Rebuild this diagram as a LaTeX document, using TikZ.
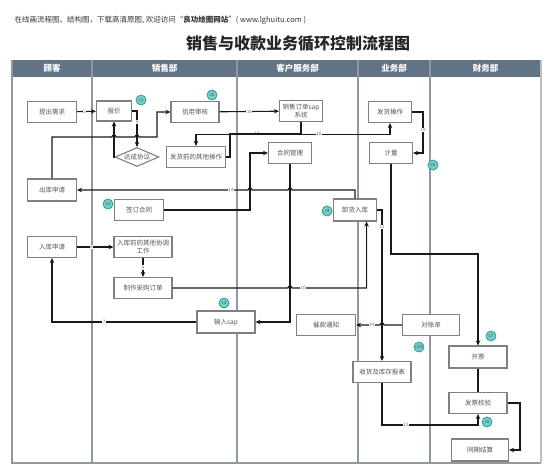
\documentclass[tikz,border=0pt]{standalone}
\usepackage{fontspec}
\setmainfont{Noto Sans CJK SC}
\usepackage{tikz}
\usetikzlibrary{shapes.geometric,arrows.meta}
\definecolor{lanehead}{HTML}{627386}
\definecolor{laneline}{HTML}{8E99A4}
\definecolor{boxline}{HTML}{808080}
\definecolor{boxtext}{HTML}{555555}
\definecolor{badgefill}{HTML}{74CFC8}
\definecolor{badgeline}{HTML}{2E9C95}

\begin{document}
\begin{tikzpicture}[x=1pt,y=1pt]
\tikzstyle{box}=[draw=boxline, line width=1.1pt, fill=white, text=boxtext, font=\fontsize{6.5}{7.5}\selectfont, inner sep=1pt, align=center, minimum height=21pt]
\tikzstyle{badge}=[circle, draw=badgeline, fill=badgefill, line width=0.8pt, minimum size=10pt, inner sep=0pt, font=\fontsize{4.5}{5}\selectfont, text=black!70]
\tikzstyle{head}=[text=white, font=\fontsize{8.5}{9}\selectfont\bfseries]
\tikzstyle{flow}=[black!90, line width=1.1pt, -{Stealth[length=5pt,width=4.5pt]}]
\tikzstyle{link}=[black!90, line width=1.1pt]
\tikzstyle{num}=[fill=white, inner sep=0.5pt, font=\fontsize{4.5}{5}\selectfont, text=black!60]
\useasboundingbox (0,0) rectangle (553,-475);
\node[anchor=west, font=\fontsize{7.5}{8}\selectfont, text=black!80] (note) at (11,-20) {在线画流程图、结构图，下载高清原图, 欢迎访问“\textbf{良功绘图网站}”( www.lghuitu.com )};
\node[font=\fontsize{16}{18}\selectfont\bfseries, text=black!85] (title) at (298,-44) {销售与收款业务循环控制流程图};
\fill[lanehead] (12,-60) rectangle (541,-77);
\draw[laneline, line width=1.2pt] (12,-60) -- (12,-463) -- (541,-463);
\draw[black!25, line width=1.2pt] (541,-60) -- (541,-463);
\draw[laneline, line width=1.2pt] (92,-60) -- (92,-463);
\draw[laneline, line width=1.2pt] (237,-60) -- (237,-463);
\draw[laneline, line width=1.2pt] (358,-60) -- (358,-463);
\draw[laneline, line width=1.2pt] (430,-60) -- (430,-463);
\node[head] (h1) at (52,-68.5) {顾客};
\node[head] (h2) at (164.5,-68.5) {销售部};
\node[head] (h3) at (297.5,-68.5) {客户服务部};
\node[head] (h4) at (394,-68.5) {业务部};
\node[head] (h5) at (485.5,-68.5) {财务部};

\node[box, minimum width=49pt] (tichu) at (52,-112) {提出需求};
\node[box, minimum width=35pt, minimum height=20pt] (baojia) at (114,-111) {报价};
\node[box, minimum width=48pt] (xinyong) at (195,-112) {信用审核};
\node[box, shape=diamond, aspect=2.3, inner sep=0pt, minimum width=44pt, minimum height=19pt] (dacheng) at (137,-157) {达成协议};
\node[box, minimum width=59pt] (fahuoqian) at (196,-157) {发货前的其他操作};
\node[box, minimum width=49pt, minimum height=22pt] (chuku) at (52,-190) {出库申请};
\node[box, minimum width=43pt] (xiaoshou) at (301,-111) {销售订单sap\\系统};
\node[box, minimum width=43pt] (hetong) at (290,-153) {合同管理};
\node[box, minimum width=43pt] (fahuo) at (390,-112) {发货操作};
\node[box, minimum width=43pt] (jiliang) at (391,-153) {计量};
\node[box, minimum width=49pt] (qianding) at (139,-210) {签订合同};
\node[box, minimum width=49pt] (ruku) at (52,-247) {入库申请};
\node[box, minimum width=58pt] (rukuqian) at (143,-247) {入库前的其他协调\\工作};
\node[box, minimum width=58pt] (caigou) at (143,-288) {制作采购订单};
\node[box, minimum width=58pt, minimum height=22pt] (shuru) at (226,-322) {输入sap};
\node[box, minimum width=43pt, minimum height=22pt] (xiehuo) at (355,-210) {卸货入库};
\node[box, minimum width=59pt] (cuikuan) at (326,-325) {催款通知};
\node[box, minimum width=57pt] (duizhang) at (431,-325) {对账单};
\node[box, minimum width=58pt] (shouhuo) at (382,-372) {收货及库存报表};
\node[box, minimum width=58pt, minimum height=22pt] (kaipiao) at (478,-357) {开票};
\node[box, minimum width=58pt] (fapiao) at (478,-403) {发票校验};
\node[box, minimum width=57pt, minimum height=22pt] (tongqi) at (480,-450) {同期结算};

\draw[flow] (tichu) -- node[num, pos=0.4]{2} (baojia);
\draw[flow] (baojia.east) -| node[num, pos=0.65]{3} (dacheng.north);
\draw[flow] (dacheng.west) -| (baojia.south);
\draw[flow] (chuku.north) |- (112,-137) arc[start angle=180, end angle=0, radius=2] -- (135,-137) arc[start angle=180, end angle=0, radius=2] -- (157,-137) |- (xinyong.west);
\draw[flow] (xinyong) -- node[num]{16} (xiaoshou);
\draw[flow] (xiaoshou.south) -- ++(0,-12) -| node[num, pos=0.21]{17} (fahuoqian.north);
\draw[flow] (xiaoshou.south) -- ++(0,-12) -| node[num, pos=0.1]{18} (fahuo.south);
\draw[link] (fahuoqian.east) -| (230,-134) -| (xiaoshou.south);
\draw[flow] (qianding.east) -- (250,-210) |- (hetong.west);
\draw[flow] (hetong.south) |- (shuru.east);
\draw[flow] (xiehuo.north) |- (292,-190) arc[start angle=0, end angle=180, radius=2] -- (252,-190) arc[start angle=0, end angle=180, radius=2] -- node[num, pos=0.1]{14} (chuku.east);
\draw[flow] (ruku) -- node[num, pos=0.4]{6} (rukuqian);
\draw[flow] (rukuqian) -- node[num]{9} (caigou);
\draw[flow] (caigou.east) -- (288,-288) arc[start angle=180, end angle=0, radius=2] -| node[num, pos=0.075]{10} (xiehuo.-45);
\draw[flow] (xiehuo.east) -| node[num, pos=0.555]{11} (shouhuo.north);
\draw[flow] (duizhang.west) -- (384,-325) arc[start angle=0, end angle=180, radius=2] -- node[num, pos=0.35]{24} (cuikuan.east);
\draw[flow] (shouhuo.south) -- (382,-425) -| node[num, pos=0.125]{12} (fapiao.south);
\draw[flow] (jiliang.south) -- (391,-254) -| (kaipiao.north);
\draw[link] (kaipiao) -- (fapiao);
\draw[flow] (fapiao.east) -- (520,-403) |- (tongqi.east);
\draw[flow] (fahuo.east) -- (423,-112) |- node[num, pos=0.22]{19} (jiliang.east);
\draw[flow] (shuru.west) -| node[num, pos=0.32]{7} (ruku.south);

\node[badge] (c1) at (141,-100) {c1};
\node[badge] (c5) at (212,-95) {c5};
\node[badge] (c6) at (433,-165) {c6};
\node[badge] (c2) at (108,-204) {c2};
\node[badge] (c4) at (327,-211) {c4};
\node[badge] (c3) at (224,-303) {c3};
\node[badge] (c10) at (419,-347) {c10};
\node[badge] (c7) at (491,-336) {c7};
\node[badge] (c8) at (487,-422) {c8};
\end{tikzpicture}
\end{document}
